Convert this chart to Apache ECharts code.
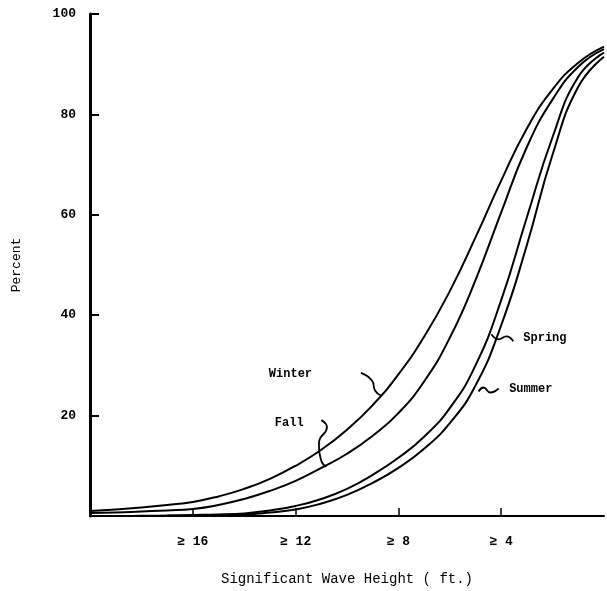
<!DOCTYPE html>
<html>
<head>
<meta charset="utf-8">
<script src="https://cdn.jsdelivr.net/npm/echarts@6/dist/echarts.min.js"></script>
<style>
  html, body { margin: 0; padding: 0; background: #fff; }
  #chart { width: 607px; height: 591px; }
</style>
</head>
<body>
<div id="chart"></div>
<script>
// wave height thresholds (ft), axis runs from 20 down to 0
const heights = [20, 19, 18, 17, 16, 15, 14, 13, 12, 11, 10, 9, 8, 7, 6, 5, 4, 3, 2, 1, 0];

const winter = [1.0, 1.3, 1.7, 2.2, 2.8, 3.9, 5.4, 7.4, 10.0, 13.2, 17.2, 22.1, 28.2, 35.7, 44.8, 55.5, 66.8, 77.2, 85.0, 90.3, 93.5];
const fall   = [0.6, 0.7, 0.9, 1.1, 1.4, 2.2, 3.4, 5.0, 7.0, 9.6, 12.4, 16.0, 20.5, 26.8, 35.5, 47.0, 60.5, 73.5, 83.0, 89.5, 93.0];
const spring = [0.0, 0.0, 0.05, 0.1, 0.2, 0.3, 0.5, 1.1, 2.0, 3.4, 5.4, 8.2, 11.6, 15.8, 21.5, 30.0, 43.0, 59.5, 75.5, 87.5, 92.3];
const summer = [0.0, 0.0, 0.0, 0.05, 0.1, 0.2, 0.3, 0.7, 1.3, 2.5, 4.2, 6.6, 9.6, 13.4, 18.5, 26.0, 38.0, 54.0, 72.0, 85.5, 91.5];

const tickLabels = [4, 8, 12, 16];

// curve names and where their labels sit (data coords)
const seasonNames = ['Winter', 'Fall', 'Spring', 'Summer'];
const labelSpots = [[12.2, 28.3], [12.25, 18.5], [2.3, 35.4], [2.85, 25.4]];

// little curly pointers from labels to the curves (data coords)
const pointers = [
    [[9.46, 28.5], [9.03, 27.0], [8.91, 25.0], [8.68, 24.0]],
    [[11.0, 19.1], [10.78, 17.7], [11.09, 14.6], [11.0, 11.0], [10.8, 9.8]],
    [[3.53, 34.8], [3.8, 35.8], [4.1, 35.2], [4.38, 36.2]],
    [[4.1, 25.4], [4.42, 24.6], [4.69, 25.6], [4.88, 24.8]]
];

const FONT = '"Liberation Mono", "DejaVu Sans Mono", monospace';

function pairs(ys) {
    return heights.map(function(h, i) { return [h, ys[i]]; });
}

const curves = [winter, fall, spring, summer].map(function(ys, i) {
    return {
        name: seasonNames[i],
        type: 'line',
        data: pairs(ys),
        smooth: 0.5,
        showSymbol: false,
        lineStyle: { color: '#000', width: 2 },
        markPoint: {
            symbol: 'circle',
            symbolSize: 1,
            itemStyle: { color: 'rgba(0,0,0,0)' },
            data: [{
                coord: labelSpots[i],
                label: {
                    show: true,
                    position: 'inside',
                    formatter: seasonNames[i],
                    color: '#000',
                    fontFamily: FONT,
                    fontWeight: 'bold',
                    fontSize: 12
                }
            }]
        }
    };
});

const squiggles = pointers.map(function(pts) {
    return {
        type: 'line',
        data: pts,
        smooth: true,
        showSymbol: false,
        silent: true,
        lineStyle: { color: '#000', width: 1.8 }
    };
});

const chart = echarts.init(document.getElementById('chart'));
chart.setOption({
    animation: false,
    backgroundColor: '#fff',
    grid: { left: 90, right: 1, top: 14, bottom: 69 },
    xAxis: {
        type: 'value',
        inverse: true,
        min: 0,
        max: 20,
        interval: 4,
        name: 'Significant Wave Height ( ft.)',
        nameLocation: 'middle',
        nameGap: 56,
        nameTextStyle: { color: '#000', fontFamily: FONT, fontSize: 14 },
        axisLine: { onZero: false, lineStyle: { color: '#000', width: 2 } },
        axisTick: {
            inside: true,
            length: 8,
            customValues: tickLabels,
            lineStyle: { color: '#000', width: 1.5 }
        },
        axisLabel: {
            margin: 19,
            color: '#000',
            fontFamily: FONT,
            fontWeight: 'bold',
            fontSize: 13,
            formatter: function(v) {
                return tickLabels.indexOf(v) >= 0 ? '\u2265 ' + v : '';
            }
        },
        splitLine: { show: false }
    },
    yAxis: {
        type: 'value',
        position: 'left',
        min: 0,
        max: 100,
        interval: 20,
        name: 'Percent',
        nameLocation: 'middle',
        nameGap: 67,
        nameTextStyle: { color: '#000', fontFamily: FONT, fontSize: 13 },
        axisLine: { show: true, onZero: false, lineStyle: { color: '#000', width: 3 } },
        axisTick: { show: true, inside: true, length: 9, lineStyle: { color: '#000', width: 2 } },
        axisLabel: {
            margin: 14,
            color: '#000',
            fontFamily: FONT,
            fontWeight: 'bold',
            fontSize: 13,
            formatter: function(v) { return v === 0 ? '' : String(v); }
        },
        splitLine: { show: false }
    },
    series: curves.concat(squiggles)
});
</script>
</body>
</html>
